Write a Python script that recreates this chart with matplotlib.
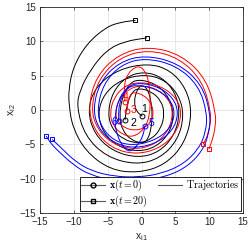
import numpy as np
import matplotlib
matplotlib.use("Agg")
import matplotlib.pyplot as plt
from matplotlib.lines import Line2D
from matplotlib.path import Path
from matplotlib.patches import PathPatch

plt.rcParams["font.family"] = "Liberation Sans"
plt.rcParams["mathtext.fontset"] = "cm"

# trajectories, (x_i1, x_i2), from t = 0 to t = 20
traj1 = np.array([
    (0.1, -0.9), (-0.8, -0.2), (-1.1, 1.2), (-0.8, 2.6), (-0.3, 3.4), (0.2, 3.6),
    (0.9, 3.0), (1.4, 1.4), (1.6, -0.8), (1.4, -2.85), (0.9, -4.35), (0.2, -4.9),
    (-1.55, -4.4), (-2.85, -2.95), (-3.3, -1.0), (-2.9, 1.75), (-1.9, 3.75), (-0.5, 4.5),
    (2.15, 3.8), (4.1, 1.85), (4.8, -0.8), (4.1, -3.45), (2.15, -5.4), (-0.5, -6.1),
    (-3.5, -5.35), (-5.7, -3.3), (-6.5, -0.5), (-5.55, 2.35), (-3.0, 4.45), (0.5, 5.2),
    (3.4, 4.4), (5.5, 2.2), (6.3, -0.8), (5.35, -4.4), (2.75, -7.05), (-0.8, -8.0),
    (-5.2, -6.85), (-8.4, -3.75), (-9.6, 0.5), (-9.1, 2.9), (-7.6, 5.8), (-5.2, 8.7),
    (-2.5, 10.0), (0.8, 10.5),
])
traj2 = np.array([
    (-2.45, -1.5), (-2.15, 0.85), (-1.45, 2.55), (-0.5, 3.2), (1.45, 2.7), (2.9, 1.35),
    (3.4, -0.5), (2.9, -2.7), (1.45, -4.3), (-0.5, -4.9), (-2.75, -4.3), (-4.4, -2.7),
    (-5.0, -0.5), (-4.3, 2.55), (-2.35, 4.8), (0.3, 5.6), (3.0, 4.8), (5.0, 2.55),
    (5.7, -0.5), (4.85, -3.75), (2.6, -6.15), (-0.5, -7.0), (-4.25, -6.05), (-7.0, -3.5),
    (-8.0, 0.0), (-6.8, 3.4), (-3.5, 5.9), (1.0, 6.8), (4.25, 5.8), (6.6, 3.15),
    (7.5, -0.5), (6.4, -4.85), (3.5, -8.0), (-0.5, -9.2), (-4.7, -8.7), (-8.3, -6.0),
    (-10.2, -2.5), (-10.7, 0.5), (-10.8, 2.9), (-10.1, 6.3), (-8.1, 9.65), (-5.2, 12.1),
    (-3.0, 12.8), (-0.9, 13.05),
])
traj3 = np.array([
    (-2.15, -0.1), (-2.0, 1.25), (-1.65, 2.25), (-1.2, 2.6), (0.3, 2.2), (1.4, 1.05),
    (1.8, -0.5), (1.4, -1.75), (0.4, -2.65), (-1.0, -3.0), (-2.45, -2.65), (-3.5, -1.75),
    (-3.9, -0.5), (-3.4, 1.55), (-1.95, 3.05), (0.0, 3.6), (2.35, 3.05), (4.05, 1.55),
    (4.7, -0.5), (3.95, -3.15), (1.85, -5.1), (-1.0, -5.8), (-4.25, -5.0), (-6.6, -2.75),
    (-7.5, 0.3), (-6.35, 4.55), (-3.25, 7.65), (1.0, 8.8), (5.65, 7.55), (9.05, 4.15),
    (10.3, -0.5), (10.1, -2.4), (9.7, -3.9), (9.1, -5.0),
])
traj4 = np.array([
    (-2.45, 1.2), (-2.6, 3.5), (-2.1, 5.3), (-0.6, 6.5), (0.5, 5.8), (1.1, 4.0),
    (1.3, 1.5), (1.2, -0.8), (0.5, -2.7), (-1.2, -4.0), (-2.95, -3.55), (-4.25, -2.25),
    (-4.7, -0.5), (-4.1, 1.8), (-2.5, 3.5), (-0.3, 4.1), (2.85, 3.5), (5.15, 1.8),
    (6.0, -0.5), (5.05, -3.5), (2.5, -5.7), (-1.0, -6.5), (-4.45, -5.55), (-7.0, -3.0),
    (-7.9, 0.5), (-6.7, 4.9), (-3.45, 8.1), (1.0, 9.3), (6.0, 8.0), (9.65, 4.4),
    (11.0, -0.5), (10.9, -2.5), (10.5, -4.3), (9.95, -5.7),
])
traj5 = np.array([
    (0.5, -2.3), (0.2, -3.9), (-0.7, -5.3), (-1.8, -6.2), (-2.9, -5.2), (-3.7, -3.4),
    (-4.0, -1.5), (-3.55, 1.25), (-2.25, 3.25), (-0.5, 4.0), (2.5, 3.4), (4.7, 1.75),
    (5.5, -0.5), (4.6, -3.05), (2.15, -4.9), (-1.2, -5.6), (-4.2, -4.8), (-6.4, -2.7),
    (-7.2, 0.2), (-6.15, 4.1), (-3.35, 6.95), (0.5, 8.0), (5.35, 6.85), (8.9, 3.75),
    (10.2, -0.5), (10.0, -3.3), (9.0, -6.0), (6.5, -8.5), (3.0, -9.9), (-0.5, -10.4),
    (-4.0, -10.3), (-7.6, -9.5), (-10.1, -8.0), (-12.3, -6.0), (-13.4, -4.9), (-14.1, -3.8),
])
traj6 = np.array([
    (-3.4, -1.6), (-3.35, 1.0), (-2.35, 3.0), (-1.0, 3.7), (2.0, 3.15), (4.2, 1.6),
    (5.0, -0.5), (4.15, -2.85), (1.75, -4.55), (-1.5, -5.2), (-4.05, -4.5), (-5.9, -2.6),
    (-6.6, 0.0), (-5.65, 3.8), (-3.05, 6.6), (0.5, 7.6), (5.1, 6.5), (8.45, 3.55),
    (9.7, -0.5), (9.5, -3.2), (8.5, -5.6), (6.2, -7.9), (2.9, -9.3), (-0.5, -9.8),
    (-4.0, -9.7), (-7.4, -8.9), (-9.8, -7.5), (-11.6, -5.8), (-13.2, -4.3),
])

trajs = [traj1, traj2, traj3, traj4, traj5, traj6]
colors = ["k", "k", "r", "r", "b", "b"]
labels = ["1", "2", "3", "4", "5", "6"]
label_x = [0.45, -1.2, -1.15, -2.3, 1.4, -3.95]
label_y = [0.15, -1.85, 0.0, 1.95, -1.9, -1.7]
ticks = [-15, -10, -5, 0, 5, 10, 15]


def smooth_path(pts):
    # read points used as quadratic bezier control points, so the curve is drawn round
    mids = (pts[:-1] + pts[1:]) / 2
    verts = [pts[0], mids[0]]
    codes = [Path.MOVETO, Path.LINETO]
    for i in range(1, len(pts) - 1):
        verts += [pts[i], mids[i]]
        codes += [Path.CURVE3, Path.CURVE3]
    verts.append(pts[-1])
    codes.append(Path.LINETO)
    return Path(verts, codes)


fig = plt.figure(figsize=(2.49, 2.49), dpi=100)
ax = fig.add_axes([0.161, 0.145, 0.815, 0.827])

for tr, c in zip(trajs, colors):
    ax.add_patch(PathPatch(smooth_path(tr), fill=False, edgecolor=c, lw=0.7, zorder=3))
    ax.plot(tr[0, 0], tr[0, 1], "o", ms=3.5, mfc="none", mec=c, mew=0.7, zorder=4)
    ax.plot(tr[-1, 0], tr[-1, 1], "s", ms=3.5, mfc="none", mec=c, mew=0.7, zorder=4)

for lab, lx, ly, c in zip(labels, label_x, label_y, colors):
    ax.text(lx, ly, lab, color=c, fontsize=7.5, ha="center", va="center", zorder=5)

ax.set_xlim(-15, 15)
ax.set_ylim(-15, 15)
ax.set_xticks(ticks)
ax.set_yticks(ticks)
ax.grid(color="0.87", lw=0.5)
ax.set_axisbelow(True)
ax.tick_params(direction="in", length=2, width=0.5, top=True, right=True,
               labelsize=7, colors="0.15", pad=3)
for s in ax.spines.values():
    s.set_color("0.15")
    s.set_linewidth(0.6)
ax.set_xlabel(r"x$_{\mathregular{i1}}$", fontsize=7.5, color="0.15", labelpad=3)
ax.set_ylabel(r"x$_{\mathregular{i2}}$", fontsize=7.5, color="0.15", labelpad=1)

handles = [
    Line2D([], [], color="0.35", lw=0.8, marker="o", ms=3.5, mfc="none", mec="k"),
    Line2D([], [], color="0.35", lw=0.8, marker="s", ms=3.5, mfc="none", mec="k"),
    Line2D([], [], color="0.35", lw=0.8),
]
leg = ax.legend(handles, [r"$\mathbf{x}(t=0)$", r"$\mathbf{x}(t=20)$", r"$\mathrm{Trajectories}$"],
                ncol=2, loc="lower right", bbox_to_anchor=(0.99, 0.01), borderaxespad=0,
                fontsize=7.2, frameon=True, fancybox=False, framealpha=1,
                edgecolor="k", handlelength=2.4, handletextpad=0.4, columnspacing=1.0,
                borderpad=0.15, labelspacing=0.05)
leg.get_frame().set_linewidth(0.6)
leg.set_zorder(10)

fig.savefig("out.png", dpi=100)
